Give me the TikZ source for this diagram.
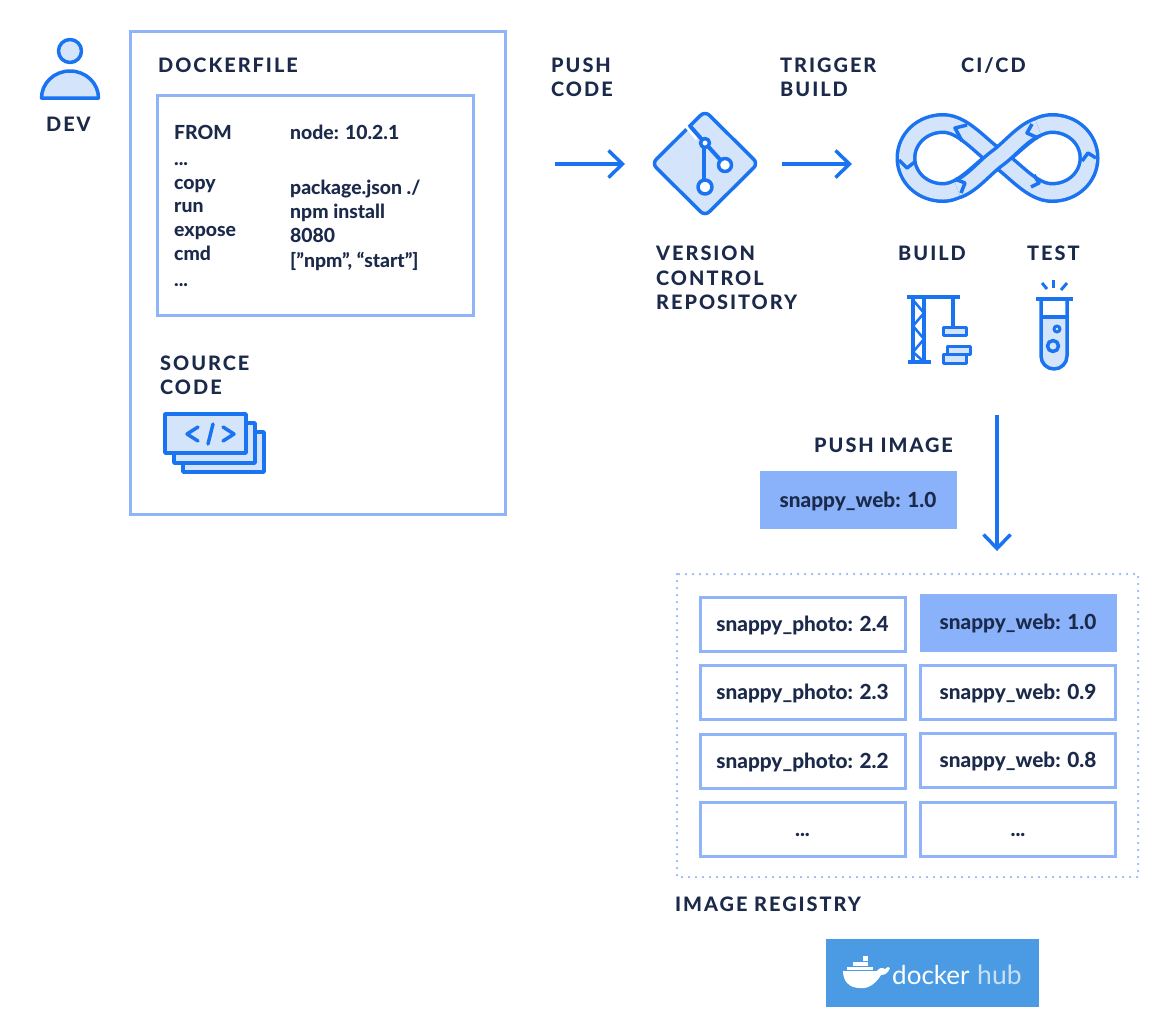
\documentclass[tikz,border=0pt]{standalone}
\usepackage{fontspec}
\setmainfont{Lato}[BoldFont={Lato Heavy}]
\newfontfamily\capsface[LetterSpace=10,BoldFont={Lato Heavy}]{Lato}
\usetikzlibrary{arrows.meta, positioning}
\definecolor{navytext}{RGB}{27,42,74}
\definecolor{paleline}{RGB}{143,181,248}
\definecolor{iconblue}{RGB}{26,115,240}
\definecolor{palefill}{RGB}{212,228,251}
\definecolor{tagfill}{RGB}{138,178,251}
\definecolor{hubblue}{RGB}{74,155,227}
\begin{document}
\begin{tikzpicture}[
    x=1pt, y=-1pt,
    node distance=11.5pt and 14pt,
    heading/.style={anchor=base west, inner sep=0pt, text=navytext, font=\capsface\bfseries\fontsize{19.9}{23}\selectfont},
    code/.style={anchor=base west, inner sep=0pt, text=navytext, font=\bfseries\fontsize{19.4}{22}\selectfont},
    frame/.style={draw=paleline, line width=3pt},
    cell/.style={draw=paleline, line width=3pt, fill=white, minimum width=205pt, minimum height=54pt, inner sep=0pt, text height=14pt, text depth=0pt, text=navytext, font=\bfseries\fontsize{20.8}{22}\selectfont},
    tag/.style={cell, draw=none, fill=tagfill, minimum width=197pt, minimum height=58pt},
    arr/.style={-{Straight Barb[length=14pt, width=27pt]}, line width=3.5pt, iconblue},
    icon/.style={draw=iconblue, line width=3.5pt, line join=round},
    iconfill/.style={icon, fill=palefill}
  ]
    \useasboundingbox (0,0) rectangle (1166,1026);

    \draw[iconfill] (70,51) circle (11.5);
    \draw[iconfill] (41.5,98) arc[start angle=180, end angle=360, x radius=28.5, y radius=27] -- cycle;
    \node[heading] (dev) at (46,131) {DEV};

    \draw[frame] (130,31) rectangle (505,514);
    \node[heading] (dockerfile) at (158,72) {DOCKERFILE};
    \draw[frame] (157,95) rectangle (473,315);
    \node[code] (from) at (174,139) {FROM};
    \node[code] (dotsa) at (174,165) {...};
    \node[code] (copy) at (174,189) {copy};
    \node[code] (run) at (174,212) {run};
    \node[code] (expose) at (174,236) {expose};
    \node[code] (cmd) at (174,260) {cmd};
    \node[code] (dotsb) at (174,286) {...};
    \node[code] (nodever) at (290,139) {node: 10.2.1};
    \node[code] (package) at (290,194) {package.json ./};
    \node[code] (npm) at (290,218) {npm install};
    \node[code] (port) at (290,242) {8080};
    \node[code] (start) at (290,267) {[”npm”, “start”]};

    \node[heading] (source) at (160,370) {SOURCE};
    \node[heading] (sourceb) at (160,394) {CODE};
    \draw[iconfill] (183,432) rectangle (264,472);
    \draw[iconfill] (174,423) rectangle (255,463);
    \draw[iconfill] (165,414) rectangle (246,453);
    \draw[icon, line cap=round] (198,427) -- (187,434) -- (198,441);
    \draw[icon, line cap=round] (208,444) -- (213,424);
    \draw[icon, line cap=round] (223,427) -- (234,434) -- (223,441);

    \node[heading] (push) at (551,72) {PUSH};
    \node[heading] (pushb) at (551,96) {CODE};
    \coordinate (pushfrom) at (555,164);
    \coordinate (pushto) at (625,164);
    \draw[arr] (pushfrom) -- (pushto);

    \draw[iconfill, rounded corners=6pt] (705,111) -- (758,163.5) -- (705,216) -- (652,163.5) -- cycle;
    \draw[draw=white, line width=3pt] (684,124) -- (697,139);
    \draw[icon, line width=4pt] (690,126) -- (705,143) -- (725,165);
    \draw[icon, line width=4.5pt] (704,143) -- (704,187);
    \draw[icon, fill=white] (725,165) circle (6.5);
    \draw[icon, fill=white] (705,187) circle (7);
    \draw[icon, fill=white] (705,143) circle (4.5);
    \node[heading] (version) at (656,260) {VERSION};
    \node[heading] (control) at (656,285) {CONTROL};
    \node[heading] (repository) at (656,309) {REPOSITORY};

    \node[heading] (trigger) at (780,72) {TRIGGER};
    \node[heading] (triggerb) at (780,96) {BUILD};
    \coordinate (buildfrom) at (782,164);
    \coordinate (buildto) at (852,164);
    \draw[arr] (buildfrom) -- (buildto);
    \node[heading] (cicd) at (961,72) {CI/CD};

    \def\loopline{(997.5,158) .. controls (1015,146) and (1032,123.5) .. (1052,123.5) .. controls (1073,123.5) and (1089,139) .. (1089,158) .. controls (1089,177) and (1073,192.5) .. (1052,192.5) .. controls (1032,192.5) and (1015,170) .. (997.5,158) .. controls (980,146) and (963,123.5) .. (943,123.5) .. controls (922,123.5) and (906,139) .. (906,158) .. controls (906,177) and (922,192.5) .. (943,192.5) .. controls (963,192.5) and (980,170) .. (997.5,158) -- cycle}
    \def\crossline{(957.5,189) .. controls (972,184) and (985,167) .. (997.5,158) .. controls (1010,149) and (1023,132) .. (1038,127)}
    \draw[iconblue, line width=21pt] \loopline;
    \draw[palefill, line width=14pt] \loopline;
    \draw[iconblue, line width=21pt] \crossline;
    \draw[palefill, line width=14pt] \crossline;
    \draw[icon] (967,125) -- (955,128) -- (962,141);
    \draw[icon] (1032,124) -- (1027,133) -- (1038,138);
    \draw[icon] (899,160) -- (907,168) -- (916,161);
    \draw[icon] (1096,158) -- (1088,153) -- (1082,161);
    \draw[icon] (955,179) -- (965,183) -- (961,193);
    \draw[icon] (1031,187) -- (1039,183) -- (1034,175);

    \node[heading] (build) at (898,260) {BUILD};
    \node[heading] (test) at (1027,260) {TEST};

    \draw[icon] (907,297) -- (960,297);
    \draw[icon] (908,362) -- (931,362);
    \draw[icon] (913,297) -- (913,362);
    \draw[icon] (924,297) -- (924,362);
    \draw[icon, line width=2.5pt] (913,300) -- (924,313) -- (913,326) -- (924,339) -- (913,352) -- (924,362);
    \draw[icon] (953,297) -- (953,327);
    \draw[iconfill, line width=3pt] (943,327) rectangle (966,335);
    \draw[iconfill, line width=3pt] (947,346) rectangle (970,354);
    \draw[iconfill, line width=3pt] (943,354) rectangle (966,363);

    \fill[palefill] (1041,317) -- (1067,317) -- (1067,356) arc[start angle=0, end angle=180, radius=13] -- cycle;
    \draw[icon] (1036,299) -- (1073,299);
    \draw[icon] (1041,299) -- (1041,356) arc[start angle=180, end angle=0, radius=13] -- (1067,299);
    \draw[icon] (1041,317) -- (1067,317);
    \draw[icon, line width=3pt] (1057,329) circle (3);
    \draw[icon] (1053,346) circle (5.5);
    \draw[icon, line width=3pt] (1053.5,280) -- (1053.5,288);
    \draw[icon, line width=3pt] (1042,283) -- (1047,289);
    \draw[icon, line width=3pt] (1067,283) -- (1061,290);

    \coordinate (imagefrom) at (997,415);
    \coordinate (imageto) at (997,551);
    \draw[arr] (imagefrom) -- (imageto);
    \node[heading] (pushimage) at (814,452) {PUSH IMAGE};
    \node[tag] (pushtag) at (858,500) {snappy\_web: 1.0};

    \draw[paleline, line width=2.5pt, line cap=round, dash pattern=on 0pt off 7pt] (677,574) rectangle (1138,877);
    \node[cell] (photoa) at (802.5,624) {snappy\_photo: 2.4};
    \node[cell, below=of photoa] (photob) {snappy\_photo: 2.3};
    \node[cell, below=of photob] (photoc) {snappy\_photo: 2.2};
    \node[cell, below=of photoc] (photod) {...};
    \node[tag] (weba) at (1018,622.5) {snappy\_web: 1.0};
    \node[cell, minimum width=195pt] (webb) at (1018,692) {snappy\_web: 0.9};
    \node[cell, minimum width=195pt, below=of webb] (webc) {snappy\_web: 0.8};
    \node[cell, minimum width=195pt, below=of webc] (webd) {...};
    \node[heading] (registry) at (675,911) {IMAGE REGISTRY};

    \fill[hubblue] (826,939) rectangle (1039,1007);
    \fill[white] (843,971) -- (877,971) .. controls (879,968) and (882,967) .. (885,969) .. controls (887,967) and (889,966) .. (890,968) .. controls (888,973) and (885,975) .. (881,975) .. controls (875,985) and (867,989) .. (860,988) .. controls (849,988) and (843,981) .. (843,971) -- cycle;
    \fill[white] (847,966.5) rectangle (873,970);
    \fill[white] (853,962) rectangle (868,965.5);
    \fill[white] (863,956) rectangle (868,960.5);
    \node[anchor=base west, inner sep=0pt, text=white, font=\fontsize{26}{32}\selectfont] (docker) at (892,984) {docker};
    \node[anchor=base west, inner sep=0pt, text=white!70!hubblue, font=\fontsize{26.5}{32}\selectfont] (hub) at (977,984) {hub};
  \end{tikzpicture}
\end{document}
